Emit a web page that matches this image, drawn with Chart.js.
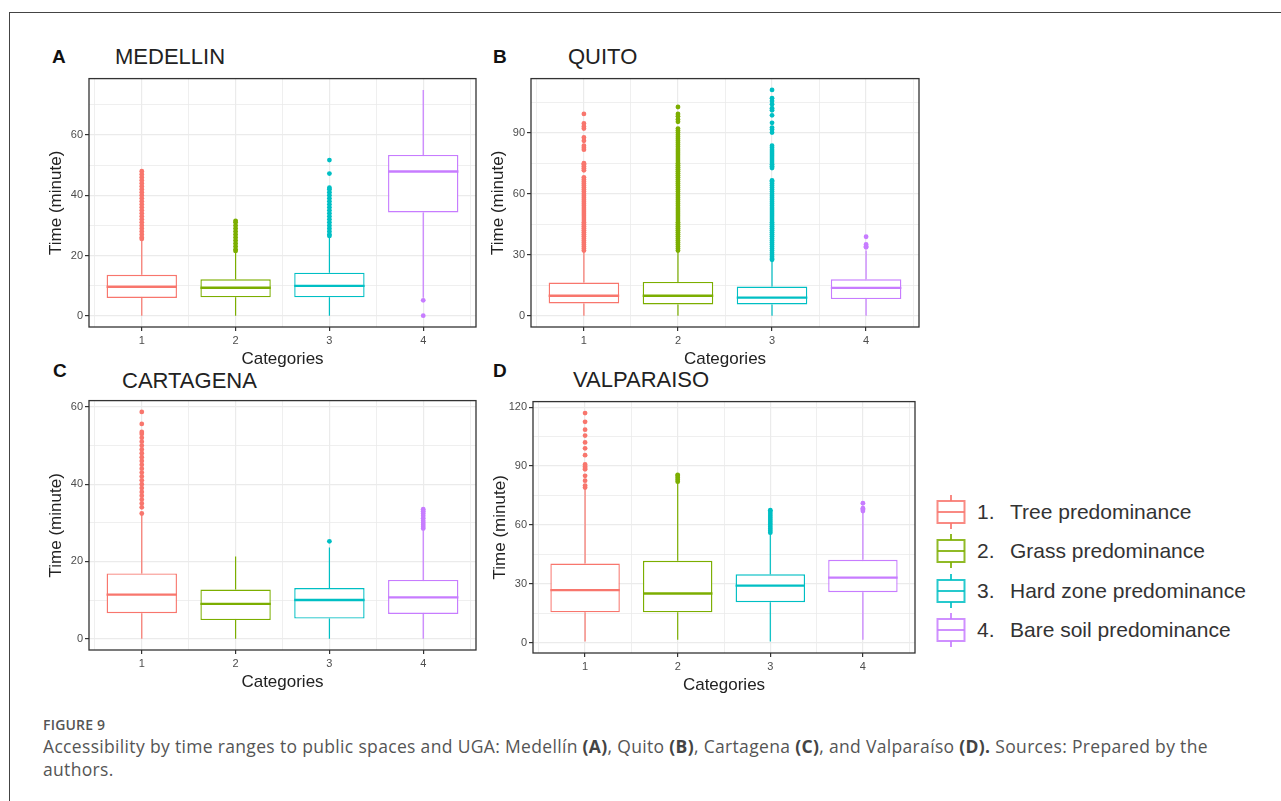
<!DOCTYPE html>
<html>
<head>
<meta charset="utf-8">
<script src="https://cdn.jsdelivr.net/npm/chart.js@4.4.1/dist/chart.umd.min.js"></script>
<style>
  body { margin: 0; background: #fff; width: 1281px; height: 801px; position: relative; overflow: hidden; font-family: "Liberation Sans", Arial, sans-serif; }
  .frame { position: absolute; left: 9px; top: 12px; right: -5px; bottom: -5px; border-top: 1.5px solid #444; border-left: 1.5px solid #444; }
  .wrap { position: absolute; }
  .letter { position: absolute; font-weight: bold; font-size: 19px; line-height: 19px; color: #111; }
  .ptitle { position: absolute; font-size: 22px; line-height: 22px; color: #222; }
  .legend { position: absolute; left: 936px; top: 492px; }
  .item { height: 39.5px; display: flex; align-items: center; font-size: 21px; color: #333; }
  .item svg { margin-right: 11px; }
  .item .num { display: inline-block; width: 33px; }
  .caption { position: absolute; left: 43px; top: 715px; width: 1230px; font-family: "Open Sans", sans-serif; color: #555; }
  .caption .fig { font-size: 14px; font-weight: 600; line-height: 20px; letter-spacing: 0.2px; }
  .caption .txt { font-size: 17.5px; line-height: 23px; letter-spacing: 0.33px; }
  .caption b { font-weight: 700; color: #444; }
</style>
</head>
<body>
<div class="frame"></div>

<div class="letter" style="left:52px;top:47px">A</div>
<div class="ptitle" style="left:115px;top:46px">MEDELLIN</div>
<div class="letter" style="left:493px;top:47px">B</div>
<div class="ptitle" style="left:568px;top:46px">QUITO</div>
<div class="letter" style="left:53px;top:361px">C</div>
<div class="ptitle" style="left:122px;top:370px">CARTAGENA</div>
<div class="letter" style="left:493px;top:361px">D</div>
<div class="ptitle" style="left:573px;top:369px">VALPARAISO</div>

<div class="wrap" style="left:40px;top:70px"><canvas id="chartA" width="440" height="302"></canvas></div>
<div class="wrap" style="left:482px;top:70px"><canvas id="chartB" width="441" height="302"></canvas></div>
<div class="wrap" style="left:40px;top:392px"><canvas id="chartC" width="440" height="303"></canvas></div>
<div class="wrap" style="left:484px;top:393px"><canvas id="chartD" width="435" height="305"></canvas></div>

<div class="legend" id="legend"></div>

<div class="caption">
  <div class="fig">FIGURE 9</div>
  <div class="txt">Accessibility by time ranges to public spaces and UGA: Medellín <b>(A)</b>, Quito <b>(B)</b>, Cartagena <b>(C)</b>, and Valparaíso <b>(D).</b> Sources: Prepared by the<br>authors.</div>
</div>

<script>
const categories = [1, 2, 3, 4];
const categoryNames = ["Tree predominance", "Grass predominance", "Hard zone predominance", "Bare soil predominance"];
const colors = ["#F8766D", "#7CAE00", "#00BFC4", "#C77CFF"];

// A - Medellin
const medellinQ1 = [5.9, 6.1, 6.1, 34.3];
const medellinMedian = [9.6, 9.3, 9.9, 47.9];
const medellinQ3 = [13.6, 12.1, 14.3, 53.4];
const medellinLow = [0, 0, 0, 6];
const medellinHigh = [25, 21, 26, 75];
const medellinOutliers = [
  [25.5, 26, 27, 28, 29, 30, 31, 32, 33, 34, 35, 36, 37, 38, 39, 40, 41, 42, 43, 44, 45, 46, 47, 48],
  [21.5, 22, 23, 24, 25, 26, 27, 28, 29, 30, 31, 31.5],
  [26.5, 27, 28, 29, 30, 31, 32, 33, 34, 35, 36, 37, 38, 39, 40, 41, 42, 42.5, 47.2, 51.7],
  [5.1, 0]
];

// B - Quito
const quitoQ1 = [6.0, 5.5, 5.5, 8.2];
const quitoMedian = [9.8, 9.8, 8.9, 13.7];
const quitoQ3 = [16.3, 16.6, 14.3, 17.9];
const quitoLow = [0, 0, 0, 0];
const quitoHigh = [31.5, 31.5, 27, 32];
const quitoOutliers = [
  [32, 33, 34, 35, 36, 37, 38, 39, 40, 41, 42, 43, 44, 45, 46, 47, 48, 49, 50, 51, 52, 53, 54, 55, 56, 57, 58, 59, 60, 61, 62, 63, 64, 65, 66, 67, 68,
   71.5, 72.5, 73.5, 74.5, 75, 81.6, 82.5, 83.6, 86, 87.6, 92, 93, 94.5, 99.2],
  [32, 33, 34, 35, 36, 37, 38, 39, 40, 41, 42, 43, 44, 45, 46, 47, 48, 49, 50, 51, 52, 53, 54, 55, 56, 57, 58, 59, 60, 61, 62, 63, 64, 65, 66, 67, 68,
   69, 70, 71, 72, 73, 74, 75, 76, 77, 78, 79, 80, 81, 82, 83, 84, 85, 86, 87, 88, 89, 90, 91, 92, 95.3, 96.5, 98, 99.2, 102.6],
  [27.5, 28, 29, 30, 31, 32, 33, 34, 35, 36, 37, 38, 39, 40, 41, 42, 43, 44, 45, 46, 47, 48, 49, 50, 51, 52, 53, 54, 55, 56, 57, 58, 59, 60, 61, 62, 63, 64, 65, 66, 66.5,
   72.6, 73.5, 74.5, 75.5, 76.5, 77.5, 78.5, 79.5, 80.5, 81.5, 82.5, 83.6, 90, 91.5, 92.5, 94.8, 98.5, 101, 102, 104, 105.5, 106.9, 111],
  [33.6, 34.2, 35, 38.8]
];

// C - Cartagena
const cartagenaQ1 = [6.6, 4.8, 5.2, 6.4];
const cartagenaMedian = [11.4, 9.0, 10.0, 10.7];
const cartagenaQ3 = [16.9, 12.7, 13.1, 15.2];
const cartagenaLow = [0, 0, 0, 0];
const cartagenaHigh = [32, 21.3, 23.6, 28];
const cartagenaOutliers = [
  [32.4, 34, 35, 36, 37, 38, 39, 40, 41, 42, 43, 44, 45, 46, 47, 48, 49, 50, 51, 52, 53, 53.5, 55.6, 58.7],
  [],
  [25.2],
  [28.5, 29, 29.5, 30, 30.5, 31.2, 31.8, 32.4, 33, 33.5]
];

// D - Valparaiso
const valparaisoQ1 = [15.4, 15.4, 20.6, 25.7];
const valparaisoMedian = [26.7, 25.0, 29.0, 33.1];
const valparaisoQ3 = [40.3, 41.7, 34.8, 42.2];
const valparaisoLow = [0.5, 1.4, 0.5, 1.4];
const valparaisoHigh = [78.5, 81.9, 55.9, 66.3];
const valparaisoOutliers = [
  [79, 80, 82.5, 85, 88.3, 89, 89.8, 90.8, 95.5, 99, 102, 105.5, 108.5, 112.5, 117],
  [82, 83, 84, 85, 85.5],
  [56, 57, 58, 59, 60, 61, 62, 63, 64, 65, 66, 67, 67.5],
  [67, 67.8, 68.5, 71]
];

const panels = [
  { id: "chartA", q1: medellinQ1, med: medellinMedian, q3: medellinQ3, lo: medellinLow, hi: medellinHigh, out: medellinOutliers, major: 20 },
  { id: "chartB", q1: quitoQ1, med: quitoMedian, q3: quitoQ3, lo: quitoLow, hi: quitoHigh, out: quitoOutliers, major: 30 },
  { id: "chartC", q1: cartagenaQ1, med: cartagenaMedian, q3: cartagenaQ3, lo: cartagenaLow, hi: cartagenaHigh, out: cartagenaOutliers, major: 20 },
  { id: "chartD", q1: valparaisoQ1, med: valparaisoMedian, q3: valparaisoQ3, lo: valparaisoLow, hi: valparaisoHigh, out: valparaisoOutliers, major: 30 }
];

// whiskers go behind, medians and the panel border on top
const boxExtras = {
  id: "boxExtras",
  beforeDatasetsDraw(chart) {
    const ds = chart.data.datasets[0];
    const y = chart.scales.y;
    const ctx = chart.ctx;
    ctx.save();
    chart.getDatasetMeta(0).data.forEach((bar, i) => {
      ctx.strokeStyle = colors[i];
      ctx.lineWidth = 1.2;
      ctx.beginPath();
      ctx.moveTo(bar.x, y.getPixelForValue(ds.stats.q3[i]));
      ctx.lineTo(bar.x, y.getPixelForValue(ds.stats.hi[i]));
      ctx.moveTo(bar.x, y.getPixelForValue(ds.stats.q1[i]));
      ctx.lineTo(bar.x, y.getPixelForValue(ds.stats.lo[i]));
      ctx.stroke();
    });
    ctx.restore();
  },
  afterDatasetsDraw(chart) {
    const ds = chart.data.datasets[0];
    const y = chart.scales.y;
    const ctx = chart.ctx;
    ctx.save();
    chart.getDatasetMeta(0).data.forEach((bar, i) => {
      const my = y.getPixelForValue(ds.stats.med[i]);
      ctx.strokeStyle = colors[i];
      ctx.lineWidth = 2.4;
      ctx.beginPath();
      ctx.moveTo(bar.x - bar.width / 2, my);
      ctx.lineTo(bar.x + bar.width / 2, my);
      ctx.stroke();
    });
    const a = chart.chartArea;
    ctx.strokeStyle = "#333";
    ctx.lineWidth = 1.3;
    ctx.strokeRect(a.left, a.top, a.right - a.left, a.bottom - a.top);
    ctx.restore();
  }
};

function makeChart(p) {
  const all = [].concat(p.lo, p.hi, p.q1, p.q3, ...p.out);
  const yMin = Math.min(...all);
  const yMax = Math.max(...all);
  const yPad = (yMax - yMin) * 0.05;
  const xLo = categories[0] - 0.375;
  const xHi = categories[categories.length - 1] + 0.375;
  const xPad = (xHi - xLo) * 0.05;

  const isMajorX = c => c.tick && Number.isInteger(c.tick.value);
  const isMajorY = c => c.tick && c.tick.value % p.major === 0;

  const datasets = [{
    type: "bar",
    data: categories.map((c, i) => ({ x: c, y: [p.q1[i], p.q3[i]] })),
    backgroundColor: "#ffffff",
    borderColor: colors,
    borderWidth: 1.4,
    borderSkipped: false,
    barPercentage: 1.5,
    categoryPercentage: 1,
    stats: p,
    order: 2
  }];
  categories.forEach((c, i) => {
    datasets.push({
      type: "scatter",
      data: p.out[i].map(v => ({ x: c, y: v })),
      pointRadius: 2.4,
      pointBackgroundColor: colors[i],
      pointBorderWidth: 0,
      order: 1
    });
  });

  const tickFont = { family: "Liberation Sans", size: 11 };
  const titleFont = { family: "Liberation Sans", size: 17 };

  new Chart(document.getElementById(p.id), {
    data: { datasets },
    options: {
      responsive: false,
      animation: false,
      events: [],
      layout: { padding: { top: 6, right: 0, bottom: 0, left: 0 } },
      plugins: { legend: { display: false }, tooltip: { enabled: false } },
      scales: {
        x: {
          type: "linear",
          offset: false,
          min: xLo - xPad,
          max: xHi + xPad,
          afterFit: s => { s.height = 45; },
          border: { display: false },
          grid: {
            offset: false,
            color: "#ebebeb",
            lineWidth: c => (isMajorX(c) ? 1.2 : 0.8),
            tickColor: c => (isMajorX(c) ? "#333" : "rgba(0,0,0,0)"),
            tickLength: 4
          },
          ticks: {
            stepSize: 0.5,
            includeBounds: false,
            autoSkip: false,
            maxRotation: 0,
            padding: 3,
            color: "#4d4d4d",
            font: tickFont,
            callback: v => (Number.isInteger(v) ? String(v) : "")
          },
          title: { display: true, text: "Categories", color: "#222", font: titleFont, padding: { top: 0, bottom: 2 } }
        },
        y: {
          type: "linear",
          min: yMin - yPad,
          max: yMax + yPad,
          afterFit: s => { s.width = 49; },
          border: { display: false },
          grid: {
            color: "#ebebeb",
            lineWidth: c => (isMajorY(c) ? 1.2 : 0.8),
            tickColor: c => (isMajorY(c) ? "#333" : "rgba(0,0,0,0)"),
            tickLength: 4
          },
          ticks: {
            stepSize: p.major / 2,
            includeBounds: false,
            autoSkip: false,
            padding: 2,
            color: "#4d4d4d",
            font: tickFont,
            callback: v => (v % p.major === 0 ? String(v) : "")
          },
          title: { display: true, text: "Time (minute)", color: "#222", font: titleFont, padding: { top: 6, bottom: 0 } }
        }
      }
    },
    plugins: [boxExtras]
  });
}

panels.forEach(makeChart);

// legend with box glyphs
const legend = document.getElementById("legend");
categoryNames.forEach((name, i) => {
  const item = document.createElement("div");
  item.className = "item";
  item.innerHTML = `
    <svg width="30" height="34" viewBox="0 0 30 34">
      <g stroke="${colors[i]}" stroke-opacity="0.85" stroke-width="2" fill="none">
        <line x1="15" y1="0" x2="15" y2="6"/>
        <line x1="15" y1="28" x2="15" y2="34"/>
        <rect x="1.5" y="6" width="27" height="22" fill="#fff"/>
        <line x1="1.5" y1="17" x2="28.5" y2="17"/>
      </g>
    </svg>
    <span><span class="num">${categories[i]}.</span>${name}</span>`;
  legend.appendChild(item);
});
</script>
</body>
</html>
